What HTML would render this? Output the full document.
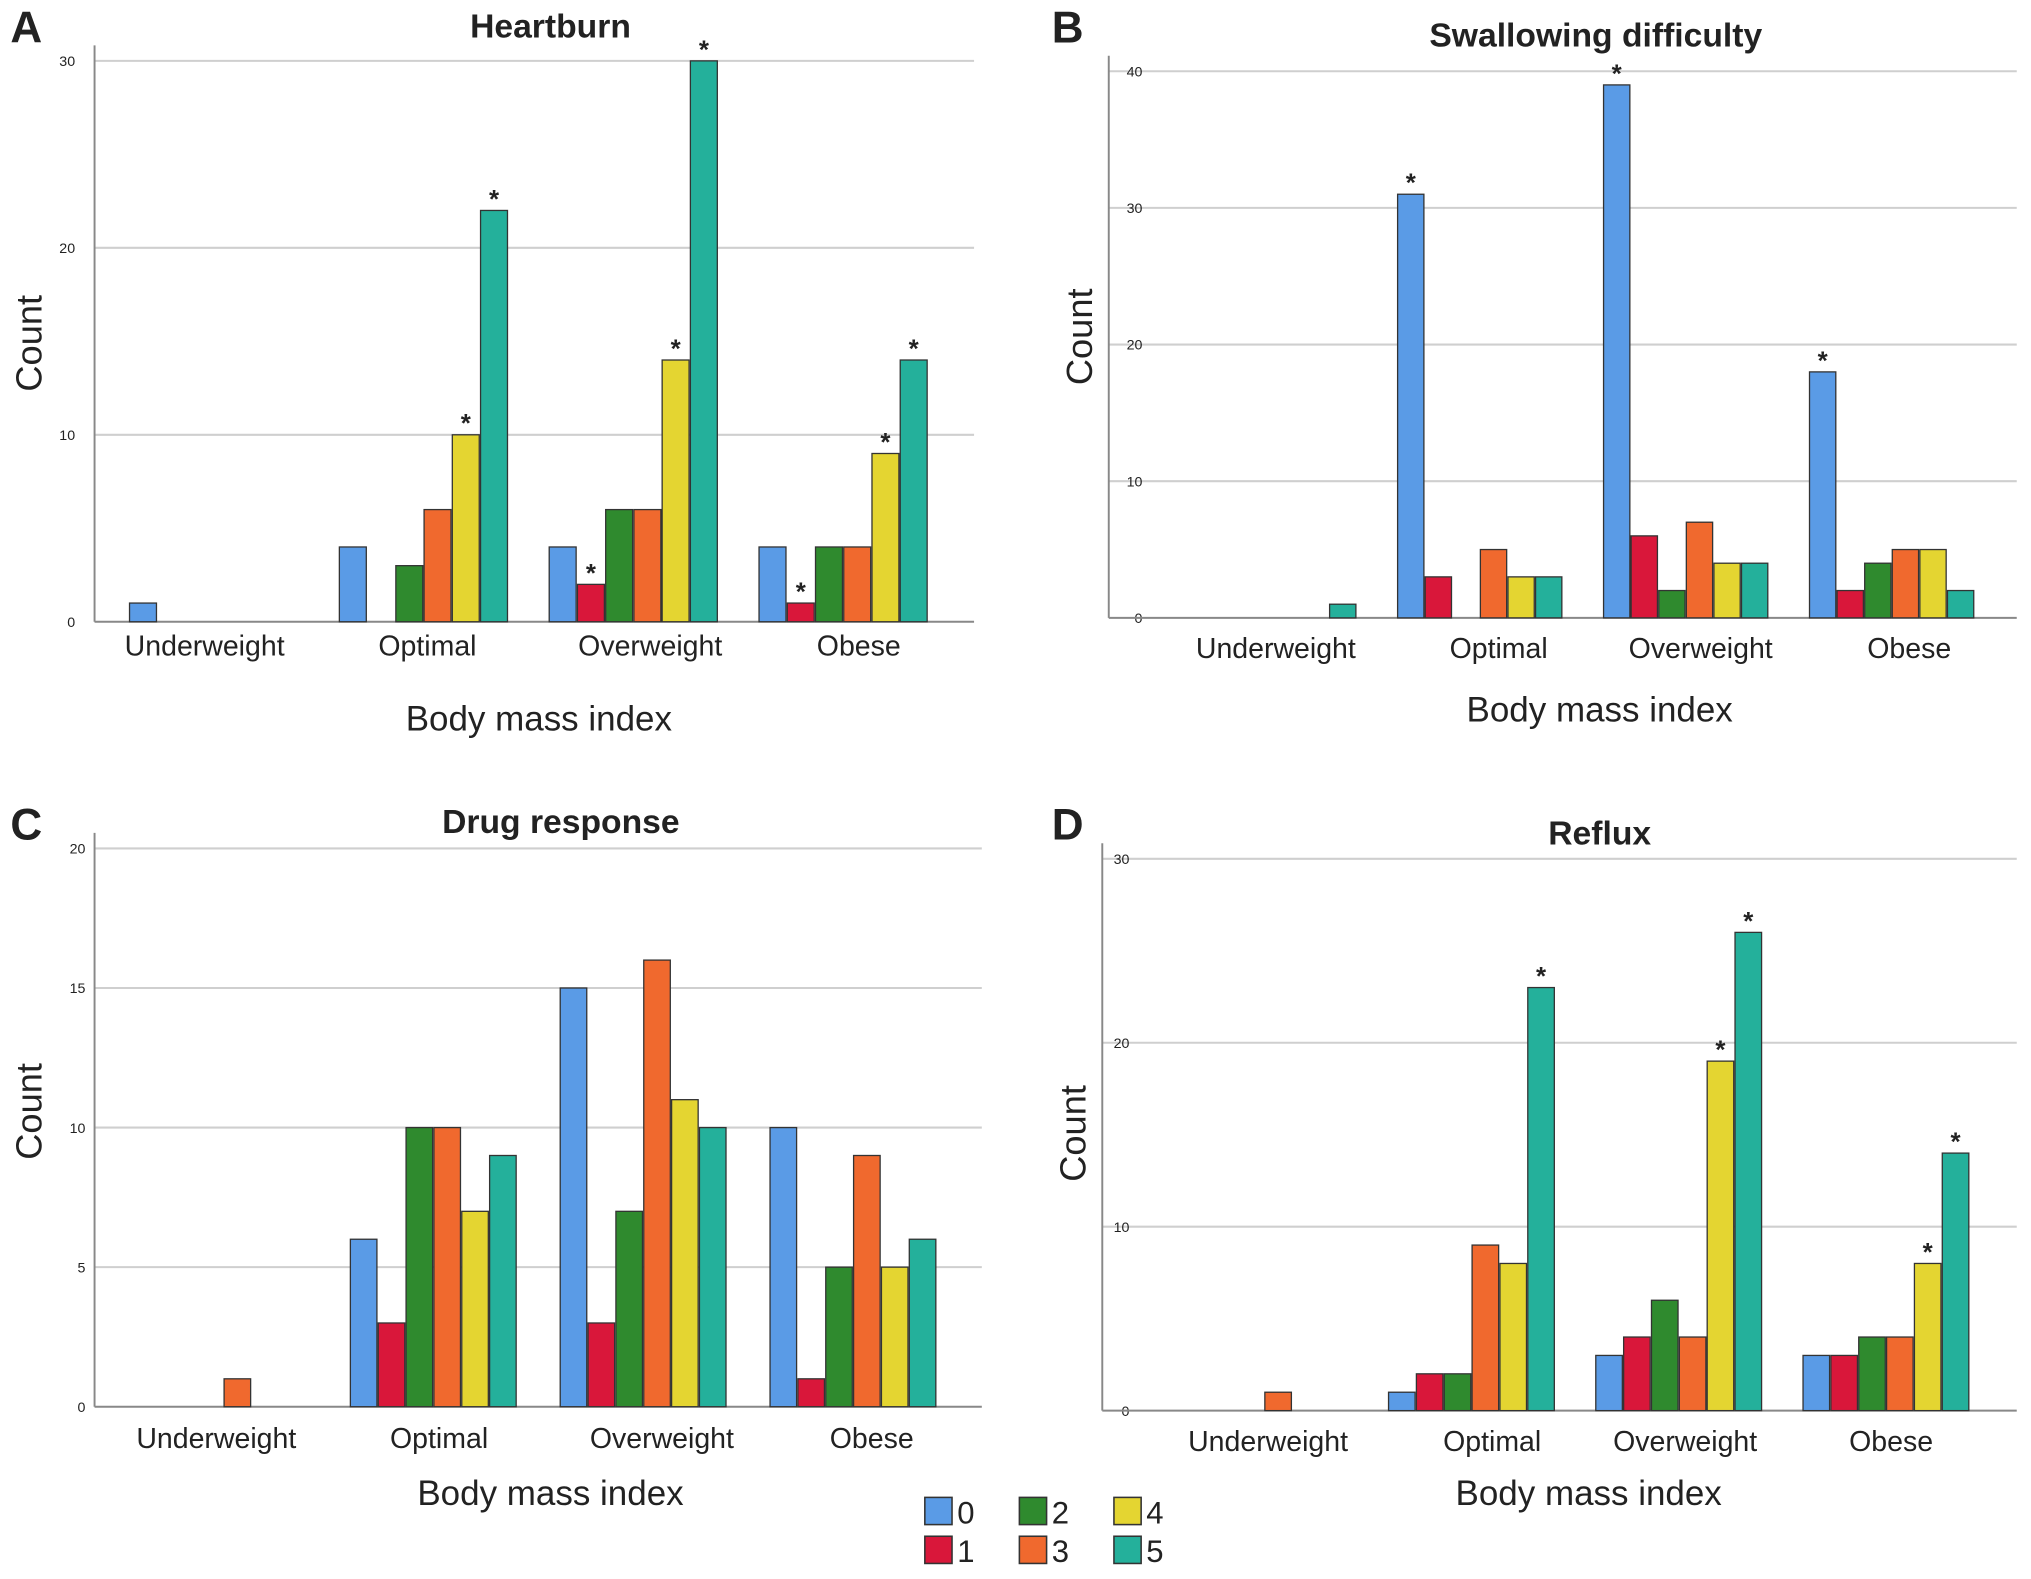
<!DOCTYPE html>
<html><head><meta charset="utf-8"><style>
html,body{margin:0;padding:0;background:#fff}
svg{display:block}
text{font-family:"Liberation Sans",Arial,sans-serif;fill:#222}
</style></head><body>
<svg id="fig" width="2031" height="1579" viewBox="0 0 1568 1219" preserveAspectRatio="none" xmlns="http://www.w3.org/2000/svg"></svg>
<script>
const categories = ["Underweight","Optimal","Overweight","Obese"];
const seriesNames = ["0","1","2","3","4","5"];
const colors = ["#5a9be6","#d9173a","#2f8a2e","#f0692e","#e4d531","#24b09b"];
const heartburnValues = [[1,0,0,0,0,0],[4,0,3,6,10,22],[4,2,6,6,14,30],[4,1,4,4,9,14]];
const heartburnStars = [[],[4,5],[1,4,5],[1,4,5]];
const heartburnTicks = [0,10,20,30];
const swallowValues = [[0,0,0,0,0,1],[31,3,0,5,3,3],[39,6,2,7,4,4],[18,2,4,5,5,2]];
const swallowStars = [[],[0],[0],[0]];
const swallowTicks = [0,10,20,30,40];
const drugValues = [[0,0,0,1,0,0],[6,3,10,10,7,9],[15,3,7,16,11,10],[10,1,5,9,5,6]];
const drugStars = [[],[],[],[]];
const drugTicks = [0,5,10,15,20];
const refluxValues = [[0,0,0,1,0,0],[1,2,2,9,8,23],[3,4,6,4,19,26],[3,3,4,4,8,14]];
const refluxStars = [[],[5],[4,5],[4,5]];
const refluxTicks = [0,10,20,30];

const NS="http://www.w3.org/2000/svg";
const svg=document.getElementById('fig');
function mk(tag,attrs,parent,txt){const e=document.createElementNS(NS,tag);for(const k in attrs)e.setAttribute(k,attrs[k]);if(txt!==undefined)e.textContent=txt;(parent||svg).appendChild(e);return e;}

const panels=[
 {key:"a",letter:"A",title:"Heartburn",vals:heartburnValues,stars:heartburnStars,ticks:heartburnTicks,
  x0:73,x1:752,y0:480,yTop:47,gs:100,sp:162,bw:21.8,catX:[158,330,502,663],tx:425,ty:29,lx:22,ly:33,cx:32,cy:265,catY:506,xtY:564,tickX:58},
 {key:"b",letter:"B",title:"Swallowing difficulty",vals:swallowValues,stars:swallowStars,ticks:swallowTicks,
  x0:856,x1:1557,y0:477,yTop:55,gs:920,sp:159,bw:21.3,catX:[985,1157,1313,1474],tx:1232,ty:36,lx:826,ly:33,cx:843,cy:260,catY:508,xtY:557,tickX:882},
 {key:"c",letter:"C",title:"Drug response",vals:drugValues,stars:drugStars,ticks:drugTicks,
  x0:73,x1:758,y0:1086,yTop:655,gs:108.5,sp:162,bw:21.5,catX:[167,339,511,673],tx:433,ty:643,lx:22,ly:648,cx:32,cy:858,catY:1118,xtY:1162,tickX:66},
 {key:"d",letter:"D",title:"Reflux",vals:refluxValues,stars:refluxStars,ticks:refluxTicks,
  x0:851,x1:1557,y0:1089,yTop:663,gs:912,sp:160,bw:21.5,catX:[979,1152,1301,1460],tx:1235,ty:652,lx:826,ly:648,cx:838,cy:875,catY:1120,xtY:1162,tickX:872}
];

panels.forEach(p=>{
  const g=mk('g',{});
  
  
  const maxT=p.ticks[p.ticks.length-1];
  const y=v=>p.y0-(v/maxT)*(p.y0-p.yTop);
  const x=(ci,si)=>p.gs+ci*p.sp+si*p.bw;
  p.ticks.forEach(t=>{
    if(t>0){const l=mk('line',{x1:p.x0,x2:p.x1,y1:y(t),y2:y(t),stroke:'#cfcfcf','stroke-width':1.6},g);
      }
    const tl=mk('text',{x:p.tickX,y:y(t)+4,'font-size':11,'text-anchor':'end'},g,String(t));
    
  });
  const ax=mk('line',{x1:p.x0,x2:p.x0,y1:p.y0,y2:p.yTop-12,stroke:'#888','stroke-width':1.5},g);
  
  const bx=mk('line',{x1:p.x0,x2:p.x1,y1:p.y0,y2:p.y0,stroke:'#888','stroke-width':1.5},g);
  
  p.vals.forEach((row,ci)=>{
    row.forEach((v,si)=>{
      if(v<=0)return;
      const r=mk('rect',{x:x(ci,si),y:y(v),width:p.bw-1,height:p.y0-y(v),fill:colors[si],stroke:'#333','stroke-width':1},g);
      
      
    });
    p.stars[ci].forEach(si=>{
      const s=mk('text',{x:x(ci,si)+p.bw/2-0.5,y:y(row[si])-2,'font-size':20,'font-weight':'bold','text-anchor':'middle'},g,'*');
      
    });
    const cl=mk('text',{x:p.catX[ci],y:p.catY,'font-size':22,'text-anchor':'middle'},g,categories[ci]);
    
  });
  const t=mk('text',{x:p.tx,y:p.ty,'font-size':26,'font-weight':'bold','text-anchor':'middle',fill:'#444'},g,p.title);
  
  const L=mk('text',{x:p.lx-14,y:p.ly,'font-size':34,'font-weight':'bold'},g,p.letter);
  
  const c=mk('text',{x:p.cx,y:p.cy,'font-size':28,'text-anchor':'middle',transform:`rotate(-90 ${p.cx} ${p.cy})`},g,'Count');
  
  const xt=mk('text',{x:(p.catX[1]+p.catX[2])/2,y:p.xtY,'font-size':27,'text-anchor':'middle'},g,'Body mass index');
  
});

const lg=mk('g',{});


seriesNames.forEach((n,i)=>{
  const col=Math.floor(i/2),row=i%2;
  const lx=714+col*73,ly=1156+row*30;
  const e=mk('g',{},lg);
  
  
  mk('rect',{x:lx,y:ly,width:21,height:21,fill:colors[i],stroke:'#333','stroke-width':1.2},e);
  mk('text',{x:lx+25,y:ly+20,'font-size':24},e,n);
});
</script>
</body></html>
